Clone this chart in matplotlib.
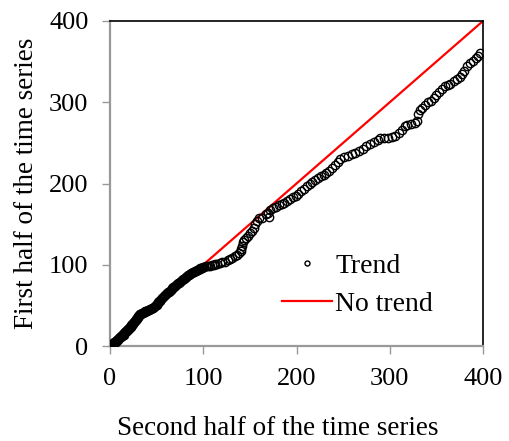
import matplotlib
matplotlib.use("Agg")
import matplotlib.pyplot as plt

plt.rcParams['font.family'] = ['Liberation Serif', 'DejaVu Serif']

# points (second half, first half)
x_dense = [0.5, 1, 1.5, 2, 3, 3.5, 4, 5, 6, 7, 8, 9, 10, 11, 12, 13, 14, 15, 16, 17,
           18, 19, 20, 21, 22, 23, 24, 25, 26, 27, 28, 29, 30, 31, 32, 33, 35, 36, 38, 40,
           42, 44, 46, 48, 50, 51, 52, 54, 55, 56, 58, 60, 62, 63, 65, 67, 68, 70, 72, 73,
           75, 77, 78, 80, 82, 84, 85, 87, 88, 90, 92, 93, 95, 96, 98, 100]
y_dense = [0.5, 1.5, 1, 2.5, 2.5, 4, 3.5, 5, 5.5, 7, 7.5, 9, 10, 11, 12.5, 13, 14.5, 15.5, 17, 18,
           19, 20.5, 21.5, 23, 24, 25.5, 27, 28, 30, 31, 33, 34.5, 36, 37.5, 39, 40, 41, 41.5, 42.5, 43.5,
           44.5, 46, 47, 49, 51, 52.5, 54, 56, 58, 59.5, 61.5, 64, 66, 67, 69.5, 71, 72.5, 74, 76, 77,
           79, 81, 82, 84, 85.5, 87, 88, 89.5, 90, 91, 92.5, 93.5, 94.5, 95, 96, 97]

x_dense2 = [0, 0.8, 1.8, 2.5, 4.5, 5.5, 6.5, 7.5, 8.5, 9.5, 10.5, 11.5, 12.5, 13.5, 14.5, 15.5,
            16.5, 17.5, 18.5, 19.5, 20.5, 21.5, 22.5, 23.5, 24.5, 25.5, 26.5, 27.5, 28.5, 29.5,
            30.5, 31.5, 32.5, 34, 37, 39, 41, 43, 45, 47, 49, 50.5, 53, 57, 59, 61, 64, 66, 69,
            71, 74, 76, 79, 81, 83, 86, 89, 91, 94, 97, 99]
y_dense2 = [0, 1, 2, 2, 4.5, 5, 6, 7.5, 8, 9.5, 10.5, 11.5, 12, 13.5, 14, 16,
            17.5, 18.5, 19.5, 21, 22, 23.5, 25, 26, 27.5, 29, 30.5, 32, 33.5, 35.5,
            36.5, 38.5, 39.5, 40.5, 42, 43, 44, 45, 46.5, 48, 50, 51.5, 55, 60.5, 62.5, 65, 68, 70, 73,
            75, 78, 80, 83, 85, 86, 89, 91, 92, 94, 95.5, 96.5]

x_sparse = [101, 103, 105, 107, 109, 111, 113, 115, 118, 120, 123, 126, 129, 131, 134, 136, 138, 140,
            141, 142, 143, 144, 146, 148, 150, 152, 154, 156, 158, 160, 163, 170, 167, 169, 172, 175,
            178, 181, 184, 187, 190, 193, 196, 199, 202, 205, 208, 211, 214, 217, 220, 223, 226, 229,
            232, 235, 238, 241, 244, 247, 251, 255, 259, 263, 267, 271, 275, 279, 283, 287, 290, 294,
            298, 302, 306, 310, 313, 316, 319, 323, 327, 329, 330, 332, 335, 338, 341, 344, 347, 350,
            353, 356, 359, 362, 365, 369, 372, 375, 377, 380, 383, 386, 389, 392, 395, 397]
y_sparse = [97.5, 98, 99, 98.5, 99.5, 100, 100.5, 101.5, 102, 103, 104, 105.5, 107, 108.5, 110.5, 112, 114, 116.5,
            119, 123, 128, 130, 133, 136, 139, 142, 145.5, 150, 154, 157, 158, 159, 162, 164, 167, 170,
            171.5, 173.5, 175, 176.5, 178.5, 181, 183, 185, 187.5, 190.5, 193.5, 196.5, 199.5, 202, 204.5, 207, 209, 211,
            213, 215.5, 219, 223, 227, 230, 232, 234, 236, 238, 240.5, 243, 246, 248.5, 251, 254, 255.5, 256,
            256.5, 257.5, 259, 262, 266, 271, 272.5, 273.5, 275, 277, 286, 290, 293, 297, 300, 302, 305, 309,
            312, 316, 320, 321, 323, 326, 328, 331, 335, 339, 345, 348, 351, 355, 357, 360]

no_trend = [0, 400]

fig = plt.figure(figsize=(5.1, 4.41), dpi=100)
ax = fig.add_axes([0.2157, 0.2154, 0.7314, 0.737])

ax.plot(no_trend, no_trend, color='red', lw=1.6, label='No trend', zorder=2)
ax.plot(x_dense + x_dense2 + x_sparse, y_dense + y_dense2 + y_sparse, 'o', mfc='none',
        mec='black', ms=6, mew=1.0, label='Trend', zorder=3)

ax.set_xlim(0, 400)
ax.set_ylim(0, 400)
ax.set_xticks([0, 100, 200, 300, 400])
ax.set_yticks([0, 100, 200, 300, 400])

for s in ['left', 'bottom']:
    ax.spines[s].set_color('#999999')
    ax.spines[s].set_linewidth(1.6)
for s in ['top', 'right']:
    ax.spines[s].set_color('black')
    ax.spines[s].set_linewidth(1.2)
ax.tick_params(direction='out', length=5.5, width=1, color='#999999',
               labelsize=19, labelcolor='black', pad=10)

ax.set_xlabel('Second half of the time series', fontsize=19.5)
ax.xaxis.set_label_coords(0.449, -0.215)
ax.set_ylabel('First half of the time series', fontsize=19.5, labelpad=7)

handles, labels = ax.get_legend_handles_labels()
ax.legend(handles[::-1], labels[::-1], loc='center left', bbox_to_anchor=(0.462, 0.188),
          frameon=False, fontsize=20, markerscale=0.6, handlelength=1.8,
          handletextpad=0.1, labelspacing=0.45, borderpad=0, borderaxespad=0)

fig.savefig('out.png', dpi=100)
